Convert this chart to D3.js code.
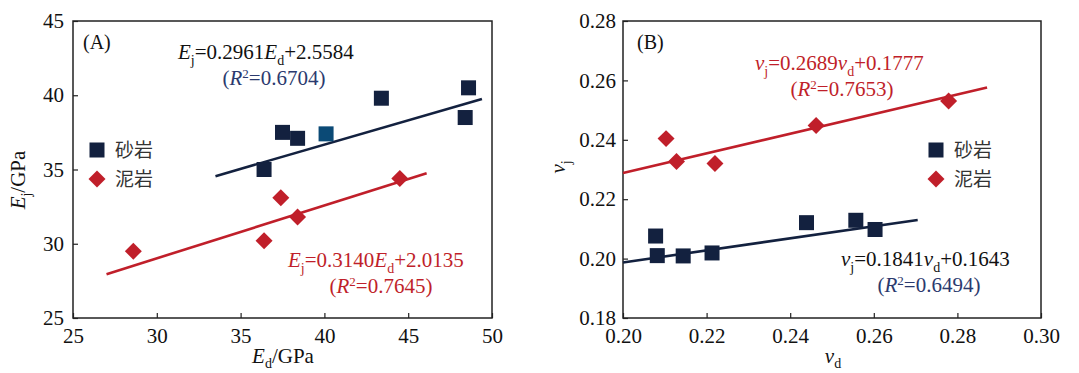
<!DOCTYPE html>
<html>
<head>
<meta charset="utf-8">
<script src="https://cdn.jsdelivr.net/npm/d3@7"></script>
<style>
  body { margin: 0; background: #fff; }
</style>
</head>
<body>
<div id="chart"></div>
<script>
// values
var sandEd = [36.4, 37.5, 38.4, 40.1, 43.4, 48.4, 48.6];
var sandEj = [35.0, 37.5, 37.1, 37.4, 39.8, 38.5, 40.5];
var mudEd = [28.6, 36.4, 37.4, 38.4, 44.5];
var mudEj = [29.5, 30.2, 33.1, 31.8, 34.4];
var sandFitA = [[33.5, 34.55], [49.4, 39.75]];
var mudFitA = [[27.0, 27.95], [46.1, 34.75]];

var sandVd = [0.2078, 0.2082, 0.2144, 0.2213, 0.2439, 0.2557, 0.2603];
var sandVj = [0.2076, 0.2010, 0.2009, 0.2019, 0.2121, 0.2129, 0.2098];
var mudVd = [0.2103, 0.2128, 0.2220, 0.2462, 0.2779];
var mudVj = [0.2404, 0.2327, 0.2320, 0.2448, 0.2531];
var sandFitB = [[0.20, 0.1987], [0.2705, 0.2130]];
var mudFitB = [[0.20, 0.2288], [0.2871, 0.2576]];

var ticksEd = [25, 30, 35, 40, 45, 50];
var ticksEj = [25, 30, 35, 40, 45];
var ticksVd = [0.20, 0.22, 0.24, 0.26, 0.28, 0.30];
var ticksVj = [0.18, 0.20, 0.22, 0.24, 0.26, 0.28];

var legendNames = ["砂岩", "泥岩"];

var navy = "#13213f";
var red = "#c01f2a";
var serif = "'Liberation Serif', 'DejaVu Serif', serif";
var cjk = "'Noto Sans CJK SC', sans-serif";

var svg = d3.select("#chart")
  .append("svg")
    .attr("width", 1079)
    .attr("height", 373)
    .style("font-family", serif);

// draws one panel, returns the scales
function panel(box, xDomain, yDomain, xTicks, yTicks, fmt, yPad) {
  var x = d3.scaleLinear().domain(xDomain).range([box.left, box.right]);
  var y = d3.scaleLinear().domain(yDomain).range([box.bottom, box.top]);

  svg.append("g")
    .attr("transform", "translate(0," + box.bottom + ")")
    .call(d3.axisBottom(x).tickValues(xTicks).tickFormat(fmt).tickSizeInner(-5).tickSizeOuter(0).tickPadding(10))
    .call(function(g) {
      g.attr("font-family", null).attr("font-size", null);
      g.select(".domain").remove();
      g.selectAll("line").attr("stroke", "#222").attr("stroke-width", 1.2);
      g.selectAll("text").style("font-family", serif).style("font-size", "21px").attr("fill", "#111");
    });

  svg.append("g")
    .attr("transform", "translate(" + box.left + ",0)")
    .call(d3.axisLeft(y).tickValues(yTicks).tickFormat(fmt).tickSizeInner(-5).tickSizeOuter(0).tickPadding(yPad))
    .call(function(g) {
      g.attr("font-family", null).attr("font-size", null);
      g.select(".domain").remove();
      g.selectAll("line").attr("stroke", "#222").attr("stroke-width", 1.2);
      g.selectAll("text").style("font-family", serif).style("font-size", "21px").attr("fill", "#111");
    });

  // frame
  svg.append("rect")
    .attr("x", box.left).attr("y", box.top)
    .attr("width", box.right - box.left).attr("height", box.bottom - box.top)
    .attr("fill", "none").attr("stroke", "#222").attr("stroke-width", 1.5);

  return {x: x, y: y};
}

function fitLine(sc, pts, color) {
  var line = d3.line()
    .x(function(d) { return sc.x(d[0]) })
    .y(function(d) { return sc.y(d[1]) });
  svg.append("path")
    .attr("d", line(pts))
    .attr("stroke", color)
    .attr("stroke-width", 2.6)
    .attr("fill", "none");
}

function squares(sc, xs, ys, colorFn) {
  svg.append("g").selectAll("rect")
    .data(xs.map(function(v, i) { return {x: v, y: ys[i], i: i}; }))
    .enter()
    .append("rect")
      .attr("x", function(d) { return sc.x(d.x) - 7.5 })
      .attr("y", function(d) { return sc.y(d.y) - 7.5 })
      .attr("width", 15).attr("height", 15)
      .attr("fill", colorFn);
}

function diamonds(sc, xs, ys) {
  svg.append("g").selectAll("path")
    .data(xs.map(function(v, i) { return {x: v, y: ys[i]}; }))
    .enter()
    .append("path")
      .attr("d", d3.symbol().type(d3.symbolSquare).size(144))
      .attr("transform", function(d) { return "translate(" + sc.x(d.x) + "," + sc.y(d.y) + ") rotate(45)" })
      .attr("fill", red);
}

function legend(x0, y0) {
  svg.append("rect").attr("x", x0 - 7.5).attr("y", y0 - 7.5).attr("width", 15).attr("height", 15).attr("fill", navy);
  svg.append("path")
    .attr("d", d3.symbol().type(d3.symbolSquare).size(144))
    .attr("transform", "translate(" + x0 + "," + (y0 + 29) + ") rotate(45)")
    .attr("fill", red);
  legendNames.forEach(function(n, i) {
    svg.append("text")
      .attr("x", x0 + 18).attr("y", y0 + i * 29 + 7)
      .style("font-family", cjk)
      .style("font-size", "19px").attr("fill", "#333")
      .text(n);
  });
}

// equation text: parts are [text, italic, sub/sup, dy back]
function eq(x, y, parts, color, anchor) {
  var t = svg.append("text")
    .attr("x", x).attr("y", y)
    .attr("text-anchor", anchor || "start")
    .style("font-family", serif)
    .style("font-size", "21px").attr("fill", color);
  parts.forEach(function(p) {
    var s = t.append("tspan").text(p[0]);
    if (p[1]) s.style("font-style", "italic");
    if (p[2] == "sub") s.attr("dy", 6).style("font-size", "14px");
    else if (p[2] == "sup") s.attr("dy", -7).style("font-size", "13px");
    else if (p[3]) s.attr("dy", p[3]);
  });
  return t;
}

// ---------- panel A ----------
var A = panel({left: 73, right: 492, top: 21, bottom: 318}, [25, 50], [25, 45], ticksEd, ticksEj, d3.format("d"), 9);

fitLine(A, sandFitA, navy);
fitLine(A, mudFitA, red);
squares(A, sandEd, sandEj, function(d) { return d.i == 3 ? "#0b4a76" : navy });
diamonds(A, mudEd, mudEj);
legend(97, 150);

svg.append("text").attr("x", 83).attr("y", 49).style("font-size", "20px").attr("fill", "#111").text("(A)");

eq(178, 59, [["E", true], ["j", false, "sub"], ["=0.2961", false, null, -6], ["E", true], ["d", false, "sub"], ["+2.5584", false, null, -6]], "#111");
eq(274, 85, [["(", false], ["R", true], ["2", false, "sup"], ["=0.6704)", false, null, 7]], "#2b3a6e", "middle");
eq(288, 267, [["E", true], ["j", false, "sub"], ["=0.3140", false, null, -6], ["E", true], ["d", false, "sub"], ["+2.0135", false, null, -6]], red);
eq(381, 293, [["(", false], ["R", true], ["2", false, "sup"], ["=0.7645)", false, null, 7]], red, "middle");

// axis titles A
var ylA = svg.append("text")
  .attr("transform", "translate(25,180) rotate(-90)")
  .attr("text-anchor", "middle").style("font-size", "21px").attr("fill", "#111");
ylA.append("tspan").text("E").style("font-style", "italic");
ylA.append("tspan").text("j").attr("dy", 6).style("font-size", "14px");
ylA.append("tspan").text("/GPa").attr("dy", -6);

var xlA = svg.append("text")
  .attr("x", 283).attr("y", 363)
  .attr("text-anchor", "middle").style("font-size", "21px").attr("fill", "#111");
xlA.append("tspan").text("E").style("font-style", "italic");
xlA.append("tspan").text("d").attr("dy", 5).style("font-size", "14px");
xlA.append("tspan").text("/GPa").attr("dy", -5);

// ---------- panel B ----------
var B = panel({left: 623, right: 1041, top: 21, bottom: 318}, [0.20, 0.30], [0.18, 0.28], ticksVd, ticksVj, d3.format(".2f"), 7);

fitLine(B, mudFitB, red);
fitLine(B, sandFitB, navy);
squares(B, sandVd, sandVj, function() { return navy });
diamonds(B, mudVd, mudVj);
legend(936, 150);

svg.append("text").attr("x", 637).attr("y", 49).style("font-size", "20px").attr("fill", "#111").text("(B)");

eq(755, 70, [["v", true], ["j", false, "sub"], ["=0.2689", false, null, -6], ["v", true], ["d", false, "sub"], ["+0.1777", false, null, -6]], red);
eq(842, 96, [["(", false], ["R", true], ["2", false, "sup"], ["=0.7653)", false, null, 7]], red, "middle");
eq(841, 266, [["v", true], ["j", false, "sub"], ["=0.1841", false, null, -6], ["v", true], ["d", false, "sub"], ["+0.1643", false, null, -6]], "#111");
eq(929, 292, [["(", false], ["R", true], ["2", false, "sup"], ["=0.6494)", false, null, 7]], "#2b3a6e", "middle");

var ylB = svg.append("text")
  .attr("transform", "translate(565,167) rotate(-90)")
  .attr("text-anchor", "middle").style("font-size", "21px").attr("fill", "#111");
ylB.append("tspan").text("v").style("font-style", "italic");
ylB.append("tspan").text("j").attr("dy", 6).style("font-size", "14px");

var xlB = svg.append("text")
  .attr("x", 833).attr("y", 363)
  .attr("text-anchor", "middle").style("font-size", "21px").attr("fill", "#111");
xlB.append("tspan").text("v").style("font-style", "italic");
xlB.append("tspan").text("d").attr("dy", 5).style("font-size", "14px");
</script>
</body>
</html>
